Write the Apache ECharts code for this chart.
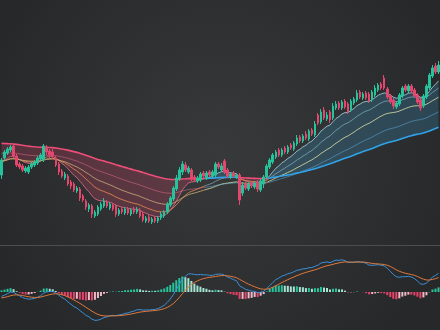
<!DOCTYPE html>
<html><head><meta charset="utf-8">
<script src="https://cdn.jsdelivr.net/npm/echarts@6/dist/echarts.min.js"></script>
<style>html,body{margin:0;padding:0;background:#2e2f31;overflow:hidden}#c{width:440px;height:330px}</style>
</head><body><div id="c"></div>
<script>
const openP = [70,87,92,95,99,89,81,79,74,73, 78,80,82,86,85,98,94,93,87,81, 74,67,69,63,61,54,56,49,44,36, 39,29,31,36,39,43,37,40,39,31, 36,32,36,31,36,33,35,31,24,28, 23,27,24,27,29,33,40,46,56,66, 73,80,73,75,68,64,65,72,67,73, 69,70,81,75,84,75,68,72,68,70, 52,61,56,62,58,63,55,61,68,78, 83,88,95,90,97,93,100,96,101,108, 104,111,106,115,110,130,123,135,126,133, 127,137,142,137,144,141,135,142,145,153, 147,152,151,145,150,155,161,167,156,149, 145,138,141,149,159,154,159,155,150,145, 139,148,157,169,179,173];
const closeP = [85,93,96,98,89,80,78,75,77,78, 81,83,87,90,99,93,90,89,80,73, 69,71,61,59,55,57,47,45,38,40, 31,33,38,41,44,39,41,36,31,35, 33,36,32,35,33,36,29,25,27,24, 26,24,27,31,33,41,47,57,67,75, 81,75,77,67,65,67,71,69,72,70, 73,81,78,79,73,69,71,69,70,45, 60,57,61,59,62,56,64,68,79,85, 90,93,90,95,93,98,97,102,107,104, 109,107,114,111,121,122,133,127,130,125, 139,141,137,143,138,133,144,146,152,148, 151,147,144,153,157,160,157,157,148,143, 139,142,150,157,155,159,154,149,143,137, 149,159,170,177,173,180];
const lowP = [66,85,90,93,87,78,76,73,72,71, 76,78,80,84,83,90,87,86,78,70, 67,65,59,56,53,52,44,43,35,33, 27,27,29,34,37,37,35,34,28,29, 31,30,30,29,31,31,27,23,22,22, 21,22,22,25,27,31,38,44,54,64, 70,73,71,64,63,62,63,67,65,68, 67,68,76,73,71,67,66,67,66,40, 49,55,54,57,56,53,53,57,66,76, 81,86,88,88,91,91,95,94,99,102, 102,105,104,109,108,120,121,125,124,122, 125,135,135,135,136,131,133,140,143,146, 145,145,142,143,148,153,155,155,146,141, 136,136,139,147,153,152,152,147,141,134, 137,146,155,167,171,171];
const highP = [87,95,98,100,101,91,83,81,79,80, 83,85,89,92,101,100,96,96,89,83, 76,73,71,65,63,59,58,51,46,42, 41,35,40,43,47,45,43,42,41,37, 38,38,38,37,38,38,37,33,29,30, 28,29,29,33,35,43,49,59,70,78, 84,83,79,77,70,69,73,74,74,75, 75,83,83,82,86,77,73,74,72,72, 63,63,63,64,64,65,66,70,81,87, 92,95,97,97,99,100,102,104,110,110, 111,114,116,117,124,132,136,138,133,135, 142,144,144,145,146,143,146,148,155,155, 153,154,153,155,160,162,163,170,158,151, 147,144,152,159,161,161,161,157,152,147, 151,161,172,180,182,184];
const ribbonPeriods = [10, 20, 35, 60, 100];
const ribbonSeeds = [82, 83, 84, 92, 102];
const macdPeriods = [12, 26, 9];
const macdSeeds = [88, 90, -3];

const N = closeP.length;
const categories = closeP.map((_, i) => String(i + 1));
function ema(src, period, seed) {
  const a = 2 / (period + 1); let prev = seed;
  return src.map(v => (prev = a * v + (1 - a) * prev));
}
const ribbon = ribbonPeriods.map((p, k) => ema(closeP, p, ribbonSeeds[k]));
const fast = ribbon[0], slow = ribbon[ribbon.length - 1];
const diff = fast.map((v, i) => v - slow[i]);
const posDiff = diff.map(d => Math.max(d, 0));
const negDiff = diff.map(d => Math.min(d, 0));
function stateGradient(cNeg, cPos) {
  const stops = []; let cur = diff[0] >= 0;
  stops.push({offset: 0, color: cur ? cPos : cNeg});
  for (let i = 1; i < N; i++) {
    const s = diff[i] >= 0;
    if (s !== cur) {
      const t = i - 1 + diff[i - 1] / (diff[i - 1] - diff[i]);
      const off = t / (N - 1);
      stops.push({offset: off, color: cur ? cPos : cNeg});
      stops.push({offset: off, color: s ? cPos : cNeg});
      cur = s;
    }
  }
  stops.push({offset: 1, color: cur ? cPos : cNeg});
  return {type: 'linear', x: 0, y: 0, x2: 1, y2: 0, colorStops: stops};
}
const e12 = ema(closeP, macdPeriods[0], macdSeeds[0]);
const e26 = ema(closeP, macdPeriods[1], macdSeeds[1]);
const dif = e12.map((v, i) => v - e26[i]);
const dea = ema(dif, macdPeriods[2], macdSeeds[2]);
const hist = dif.map((v, i) => v - dea[i]);
const histData = hist.map((h, i) => {
  const prev = i ? hist[i - 1] : h; let c;
  if (h >= 0) c = h >= prev ? '#27c49c' : '#a4e4d1';
  else c = h <= prev ? '#e8436b' : '#f0b9c7';
  return {value: h, itemStyle: {color: c}};
});
const candleData = closeP.map((c, i) => [openP[i], c, lowP[i], highP[i]]);

const ribbonColors = [
  ['rgba(240,120,150,0.7)', 'rgba(175,225,240,0.75)'],
  ['rgba(222,135,80,0.85)', 'rgba(150,210,225,0.55)'],
  ['rgba(205,170,120,0.8)', 'rgba(220,225,165,0.8)'],
  ['rgba(230,110,140,0.5)', 'rgba(90,170,220,0.55)'],
  ['#ee4d78', '#2fa3ea']
];
const lineSeries = ribbon.map((d, k) => ({
  type: 'line', data: d, symbol: 'none', silent: true, z: 3,
  lineStyle: {width: k === ribbon.length - 1 ? 1.6 : 1, color: stateGradient(ribbonColors[k][0], ribbonColors[k][1])}
}));

const lr = 38, hr = 36;
const chart = echarts.init(document.getElementById('c'));
chart.setOption({
  animation: false,
  backgroundColor: {type: 'radial', x: 0.5, y: 0.45, r: 0.75, colorStops: [{offset: 0, color: '#38393b'}, {offset: 1, color: '#27282a'}]},
  grid: [{left: 0, right: 0, top: 0, height: 246}, {left: 0, right: 0, top: 250, height: 80}],
  xAxis: [
    {type: 'category', data: categories, gridIndex: 0, boundaryGap: true, axisLine: {show: true, lineStyle: {color: '#4c4d4f'}}, axisTick: {show: false}, axisLabel: {show: false}, splitLine: {show: false}},
    {type: 'category', data: categories, gridIndex: 1, boundaryGap: true, axisLine: {show: false}, axisTick: {show: false}, axisLabel: {show: false}, splitLine: {show: false}}
  ],
  yAxis: [
    {gridIndex: 0, min: -1, max: 245, show: false, splitLine: {show: false}},
    {gridIndex: 1, min: -0.475 * lr, max: 0.525 * lr, show: false, splitLine: {show: false}},
    {gridIndex: 1, min: -0.475 * hr, max: 0.525 * hr, show: false, splitLine: {show: false}}
  ],
  series: [
    {type: 'line', data: slow, stack: 'band', stackStrategy: 'all', symbol: 'none', silent: true, lineStyle: {width: 0}, z: 1},
    {type: 'line', data: posDiff, stack: 'band', stackStrategy: 'all', symbol: 'none', silent: true, lineStyle: {width: 0}, areaStyle: {color: 'rgba(60,165,215,0.33)'}, z: 1},
    {type: 'line', data: negDiff, stack: 'band', stackStrategy: 'all', symbol: 'none', silent: true, lineStyle: {width: 0}, areaStyle: {color: 'rgba(232,72,112,0.32)'}, z: 1},
    ...lineSeries,
    {type: 'candlestick', data: candleData, barWidth: 2, z: 5,
     itemStyle: {color: '#26c29b', color0: '#e4466e', borderColor: '#26c29b', borderColor0: '#e4466e', borderWidth: 1}},
    {type: 'bar', data: histData, xAxisIndex: 1, yAxisIndex: 2, barWidth: 2},
    {type: 'line', data: dif, xAxisIndex: 1, yAxisIndex: 1, symbol: 'none', lineStyle: {width: 1, color: '#3b8fd8'}},
    {type: 'line', data: dea, xAxisIndex: 1, yAxisIndex: 1, symbol: 'none', lineStyle: {width: 1, color: '#e07a3c'}}
  ]
});
</script>
</body></html>
